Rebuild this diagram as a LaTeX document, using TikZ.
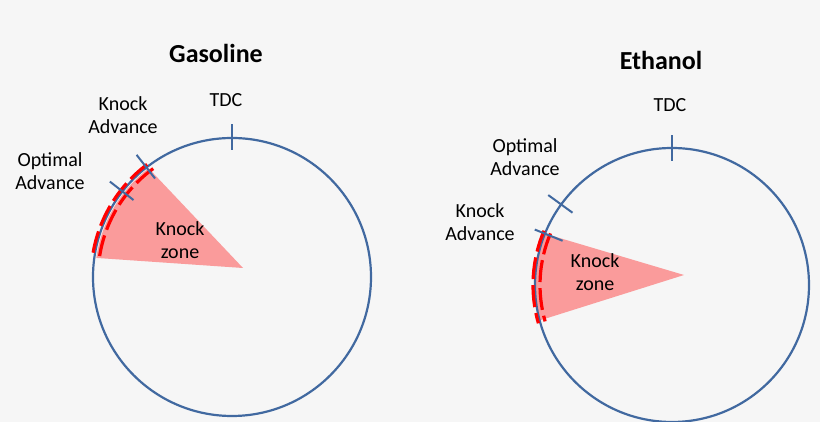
\documentclass[tikz,border=0pt]{standalone}
\usepackage{fontspec}
\setmainfont{Carlito}
\usetikzlibrary{calc}
\definecolor{ring}{RGB}{65,105,160}
\definecolor{zone}{RGB}{250,155,155}
\definecolor{bg}{RGB}{246,246,246}
\tikzset{
  lbl/.style={align=center, font=\fontsize{20}{23}\selectfont, inner sep=0pt},
  ttl/.style={font=\fontsize{26}{29}\selectfont\bfseries, inner sep=0pt},
  tick/.style={ring, line width=2pt},
  hot/.style={red, line width=3.2pt, dash pattern=on 22pt off 6pt}
}
\begin{document}
\begin{tikzpicture}[x=1pt,y=1pt]
        \fill[bg] (0,0) rectangle (820,422);
        \useasboundingbox (0,0) rectangle (820,422);

        % gasoline
        \coordinate (gc) at (232,145);
        \fill[zone] (243,154) -- ($(gc)+(127.5:137)$) arc (127.5:172:137) -- cycle;
        \draw[ring, line width=2.2pt] (gc) circle (139);
        \draw[hot] ($(gc)+(127:141)$) arc (127:172:141);
        \draw[hot] ($(gc)+(126:134)$) arc (126:171:134);
        \draw[tick] ($(gc)+(90:127)$) -- ($(gc)+(90:153)$);
        \draw[tick] ($(gc)+(128:125)$) -- ($(gc)+(128:155)$);
        \draw[tick] ($(gc)+(142:125)$) -- ($(gc)+(142:155)$);
        \node[ttl] (gtitle) at (216,369) {Gasoline};
        \node[lbl] (gtdc) at (226,322) {TDC};
        \node[lbl] (gknock) at (123,307) {Knock\\Advance};
        \node[lbl] (gopt) at (50,251) {Optimal\\Advance};
        \node[lbl] (gzone) at (180,182) {Knock\\zone};

        % ethanol
        \coordinate (ec) at (672,137);
        \fill[zone] (684,147) -- ($(ec)+(158:137)$) arc (158:195:137) -- cycle;
        \draw[ring, line width=2.2pt] (ec) circle (137);
        \draw[hot] ($(ec)+(157:139)$) arc (157:196:139);
        \draw[hot] ($(ec)+(157:132)$) arc (157:196:132);
        \draw[tick] ($(ec)+(90:124)$) -- ($(ec)+(90:150)$);
        \draw[tick] ($(ec)+(144:123)$) -- ($(ec)+(144:153)$);
        \draw[tick] ($(ec)+(158:118)$) -- ($(ec)+(158:148)$);
        \node[ttl] (etitle) at (661,362) {Ethanol};
        \node[lbl] (etdc) at (670,317) {TDC};
        \node[lbl] (eopt) at (525,265) {Optimal\\Advance};
        \node[lbl] (eknock) at (480,200) {Knock\\Advance};
        \node[lbl] (ezone) at (595,150) {Knock\\zone};
\end{tikzpicture}
\end{document}
